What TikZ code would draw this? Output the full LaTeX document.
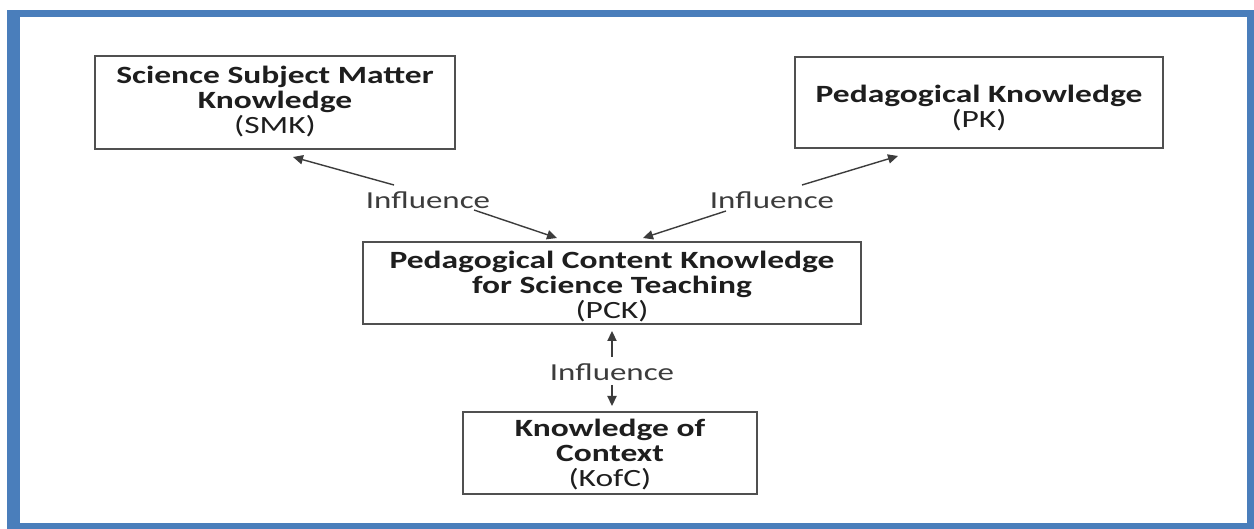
\documentclass[tikz,border=0pt]{standalone}
\usepackage{fontspec}
\setmainfont{Carlito}[FakeStretch=1.35]
\usetikzlibrary{arrows.meta}
\definecolor{framebl}{HTML}{4A7EBB}
\definecolor{boxline}{HTML}{505050}
\definecolor{txt}{HTML}{1E1E1E}
\definecolor{soft}{HTML}{3C3C3C}
\begin{document}
\begin{tikzpicture}[x=0.5pt,y=-0.5pt,
  box/.style={draw=boxline,line width=0.9pt,rectangle,inner sep=0pt},
  boxtext/.style={align=center,text=txt,font=\fontsize{12.4}{12.5}\selectfont,inner sep=0pt},
  inftext/.style={text=soft,font=\fontsize{12.2}{12.5}\selectfont,inner sep=0pt},
  conn/.style={draw=soft,line width=0.7pt,-{Triangle[length=5pt,width=4.6pt]}}]
\useasboundingbox (0,0) rectangle (1254,529);
\fill[white] (0,0) rectangle (1254,529);
\fill[framebl] (7,10) rectangle (1254,529);
\fill[white] (20,17) rectangle (1247,523);

% boxes
\node[box,minimum width=180pt,minimum height=46.5pt] (smk) at (275,102.5) {};
\node[box,minimum width=184pt,minimum height=45.5pt] (pk) at (979,102.5) {};
\node[box,minimum width=249pt,minimum height=41pt] (pck) at (612,283) {};
\node[box,minimum width=147pt,minimum height=41pt] (kofc) at (610,453) {};

% texts
\node[boxtext] (smkt) at (275,102) {\textbf{Science Subject Matter}\\\textbf{Knowledge}\\(SMK)};
\node[boxtext] (pkt) at (979,108) {\textbf{Pedagogical Knowledge}\\(PK)};
\node[boxtext] (pckt) at (612,287) {\textbf{Pedagogical Content Knowledge}\\\textbf{for Science Teaching}\\(PCK)};
\node[boxtext] (kofct) at (610,455) {\textbf{Knowledge of}\\\textbf{Context}\\(KofC)};

% influence labels
\node[inftext] (inf1) at (428,200) {Influence};
\node[inftext] (inf2) at (772,200) {Influence};
\node[inftext] (inf3) at (612,372) {Influence};

% arrow ends
\coordinate (a1s) at (394,185);
\coordinate (a1e) at (293,157);
\coordinate (b1s) at (474,210);
\coordinate (b1e) at (557,238);
\coordinate (a2s) at (802,185);
\coordinate (a2e) at (898,156);
\coordinate (b2s) at (726,211);
\coordinate (b2e) at (643,238);
\coordinate (a3s) at (612,357);
\coordinate (a3e) at (612,331);
\coordinate (b3s) at (612,385);
\coordinate (b3e) at (612,406);

\draw[conn] (a1s) -- (a1e);
\draw[conn] (b1s) -- (b1e);
\draw[conn] (a2s) -- (a2e);
\draw[conn] (b2s) -- (b2e);
\draw[conn] (a3s) -- (a3e);
\draw[conn] (b3s) -- (b3e);
\end{tikzpicture}
\end{document}
